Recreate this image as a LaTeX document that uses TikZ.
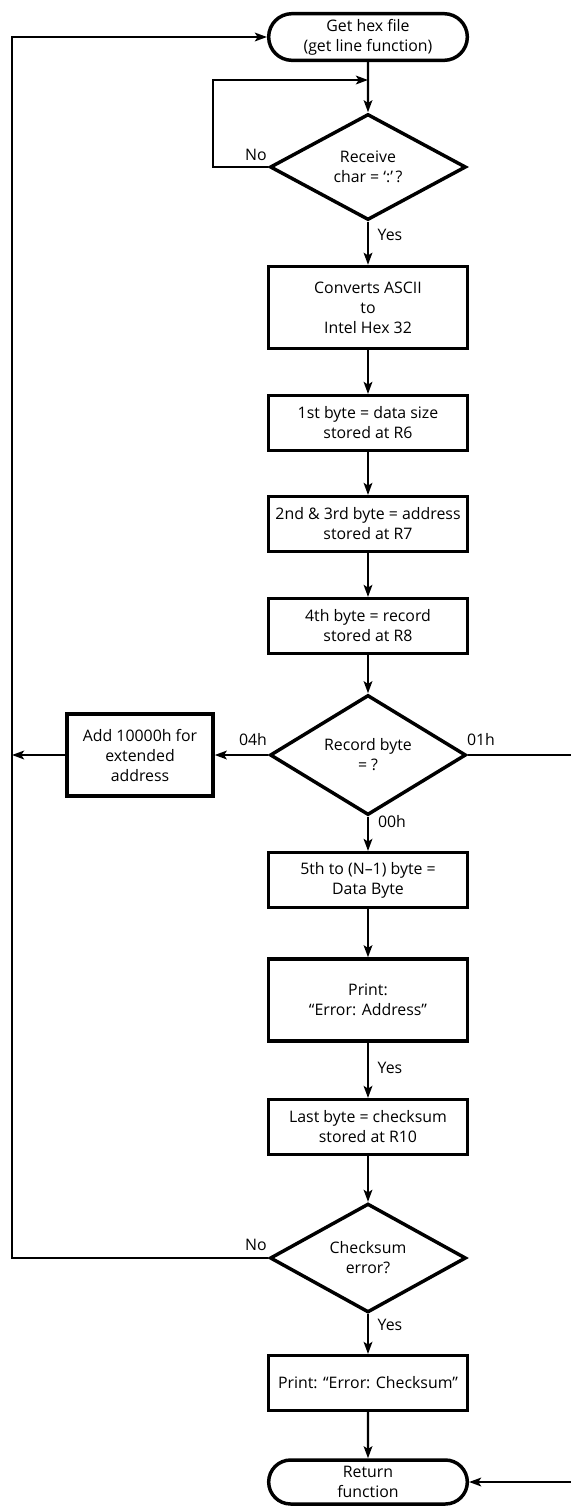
\documentclass[tikz,border=0pt]{standalone}
\usepackage{fontspec}
\setmainfont{Open Sans}
\usetikzlibrary{shapes.geometric,shapes.misc,arrows.meta}

\tikzset{
  every node/.style={font=\fontsize{11.9}{15}\selectfont},
  arr/.style={line width=1.6pt, -{Stealth[length=9pt,width=6.5pt,inset=2pt]}},
  conn/.style={line width=1.6pt},
  proc/.style={draw, line width=2.6pt, rectangle, align=center, inner sep=1pt,
    minimum width=149pt, minimum height=41pt},
  tallproc/.style={proc, minimum height=61.5pt},
  decision/.style={draw, line width=2.6pt, diamond, align=center, inner sep=0pt,
    minimum width=147pt, minimum height=79.5pt},
  term/.style={draw, line width=2.6pt, rounded rectangle, align=center, inner sep=1pt,
    minimum width=151pt, minimum height=35pt},
  lbl/.style={inner sep=0pt}
}

\begin{document}
\begin{tikzpicture}[x=0.75pt, y=-0.75pt]
  \useasboundingbox (0,0) rectangle (571,1507);

  % main column
  \node[term] (start) at (368,37) {Get hex file\\(get line function)};
  \node[decision] (rx) at (368,167) {Receive\\char = `:'\,?};
  \node[tallproc] (conv) at (368,307.5) {Converts ASCII\\to\\Intel Hex 32};
  \node[proc] (b1) at (368,423) {1st byte = data size\\stored at R6};
  \node[proc] (b2) at (368,524) {2nd \& 3rd byte = address\\stored at R7};
  \node[proc] (b4) at (368,626) {4th byte = record\\stored at R8};
  \node[decision] (rec) at (368,755) {Record byte\\= ?};
  \node[tallproc, minimum width=109.5pt] (add) at (140,755) {Add 10000h for\\extended\\address};
  \node[proc] (b5) at (368,880) {5th to (N--1) byte =\\Data Byte};
  \node[tallproc] (perr) at (368,1000) {Print:\\``Error: Address''};
  \node[proc] (last) at (368,1127) {Last byte = checksum\\stored at R10};
  \node[decision] (chk) at (368,1258) {Checksum\\error?};
  \node[proc] (pchk) at (368,1383) {Print: ``Error: Checksum''};
  \node[term, minimum height=33pt] (ret) at (368,1482) {Return\\function};

  % helper points
  \coordinate (join) at (368,80);
  \coordinate (loopleft) at (213,167);
  \coordinate (railtop) at (12,37);
  \coordinate (redge) at (571,755);
  \coordinate (redge2) at (571,1482);

  % connectors
  \draw[arr] (start) -- (rx);
  \draw[arr] (rx.west) -- (loopleft) |- (join);
  \draw[arr] (rx) -- (conv);
  \draw[arr] (conv) -- (b1);
  \draw[arr] (b1) -- (b2);
  \draw[arr] (b2) -- (b4);
  \draw[arr] (b4) -- (rec);
  \draw[arr] (rec) -- (add);
  \draw[arr] (add.west) -- (add.west -| railtop);
  \draw[conn] (rec.east) -- (redge);
  \draw[arr] (rec) -- (b5);
  \draw[arr] (b5) -- (perr);
  \draw[arr] (perr) -- (last);
  \draw[arr] (last) -- (chk);
  \draw[arr] (chk.west) -| (railtop) -- (start.west);
  \draw[arr] (chk) -- (pchk);
  \draw[arr] (pchk) -- (ret);
  \draw[arr] (redge2) -- (ret.east);

  % labels
  \node[lbl] (no1) at (256,155) {No};
  \node[lbl] (yes1) at (390,235) {Yes};
  \node[lbl] (l04) at (253,740) {04h};
  \node[lbl] (l01) at (481,740) {01h};
  \node[lbl] (l00) at (392,822) {00h};
  \node[lbl] (yes2) at (390,1068) {Yes};
  \node[lbl] (no2) at (256,1245) {No};
  \node[lbl] (yes3) at (390,1325) {Yes};
\end{tikzpicture}
\end{document}
